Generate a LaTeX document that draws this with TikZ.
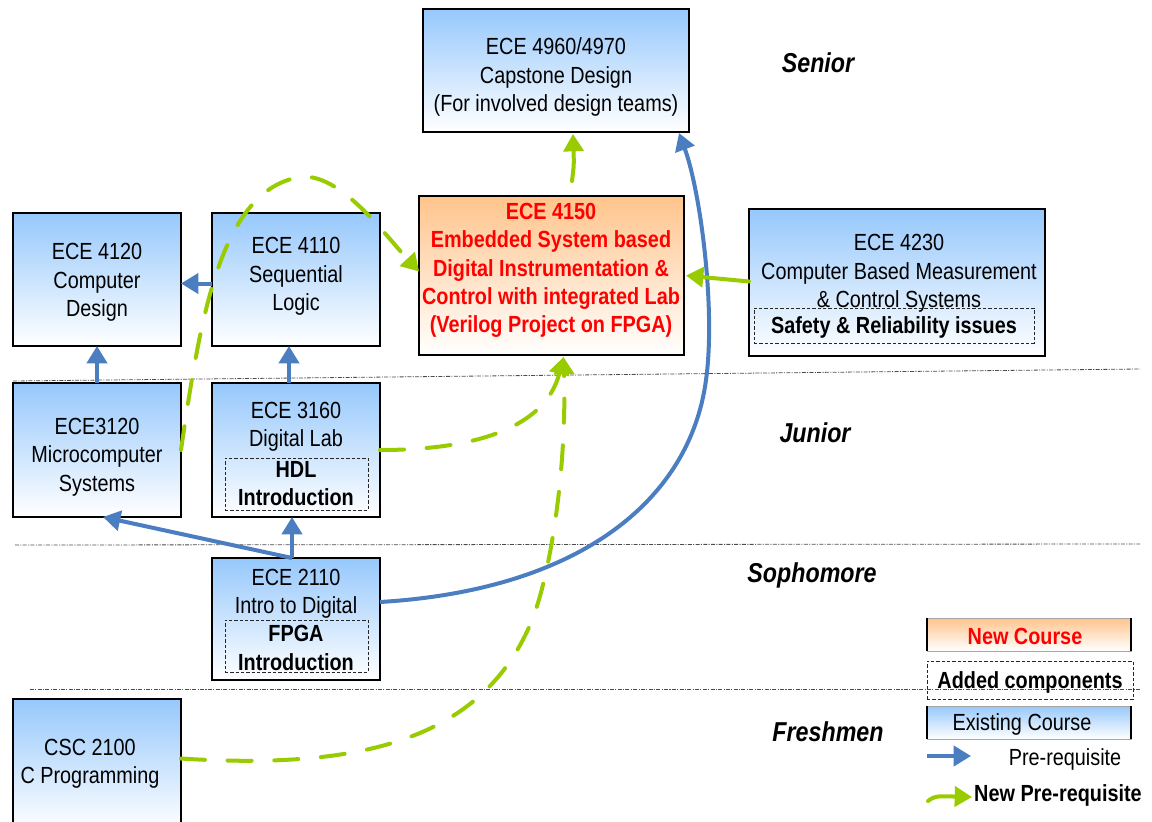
\documentclass[tikz,border=0pt]{standalone}
\usepackage{fontspec}
\setmainfont{Liberation Sans}[FakeStretch=0.85]
\usetikzlibrary{arrows.meta,calc}
\definecolor{pblue}{RGB}{74,126,193}
\definecolor{pgreen}{RGB}{153,204,0}
\definecolor{boxblue}{RGB}{150,200,252}
\definecolor{boxorange}{RGB}{255,196,140}
\begin{document}
\begin{tikzpicture}[x=0.75pt,y=-0.75pt,
  every node/.style={inner sep=0pt, outer sep=0pt},
  course/.style={draw=black, line width=1.5pt, top color=boxblue, bottom color=white},
  newcourse/.style={draw=black, line width=2pt, top color=boxorange, bottom color=white},
  added/.style={draw=black!85, line width=0.6pt, dash pattern=on 2.5pt off 1.5pt},
  txt/.style={align=center, font=\fontsize{17.5pt}{21.3pt}\selectfont},
  btxt/.style={align=center, font=\fontsize{17.5pt}{21.3pt}\selectfont\bfseries},
  newtxt/.style={btxt, text=red},
  level/.style={font=\fontsize{20.5pt}{24pt}\selectfont\bfseries\itshape},
  sepline/.style={draw=black!70, line width=0.6pt, dash pattern=on 3pt off 1pt on 0.8pt off 1pt},
  prereq/.style={draw=pblue, line width=3pt, -{Triangle[length=13pt,width=15pt]}},
  sgreen/.style={draw=pgreen, line width=3pt, line cap=round, -{Triangle[length=13pt,width=15pt]}},
  dgreen/.style={sgreen, dash pattern=on 18pt off 17pt},
  legbox/.style={draw=black!35, line width=0.6pt, minimum width=153pt, minimum height=24.75pt}
]
\clip (0,0) rectangle (1152,821);
\useasboundingbox (0,0) rectangle (1152,821);

% level separators
\draw[sepline] (13,381) -- (1140,369);
\draw[sepline] (15,545) -- (1140,544);
\draw[sepline] (30,689) -- (1140,689);

% level labels
\node[level] (lsen) at (818,63) {Senior};
\node[level] (ljun) at (815,433) {Junior};
\node[level] (lsoph) at (812,575) {Sophomore};
\node[level] (lfre) at (828,732) {Freshmen};

% course boxes
\node[course, minimum width=199.5pt, minimum height=92.25pt] (ncap) at (556,70.5) {};
\node[txt] (tcap) at (556,77) {ECE 4960/4970\\Capstone Design\\(For involved design teams)};

\node[newcourse, minimum width=198.75pt, minimum height=119.25pt] (n4150) at (551.5,275.5) {};
\node[newtxt] (t4150) at (551,270.5) {ECE 4150\\Embedded System based\\Digital Instrumentation \&\\Control with integrated Lab\\(Verilog Project on FPGA)};

\node[course, minimum width=126pt, minimum height=99.75pt] (n4120) at (97,279.5) {};
\node[txt] (t4120) at (97,282.5) {ECE 4120\\Computer\\Design};

\node[course, minimum width=126pt, minimum height=99.75pt] (n4110) at (296,279.5) {};
\node[txt] (t4110) at (296,276.5) {ECE 4110\\Sequential\\Logic};

\node[course, minimum width=222pt, minimum height=110.25pt] (n4230) at (897,282.5) {};
\node[txt] (t4230) at (899,273.5) {ECE 4230\\Computer Based Measurement\\\& Control Systems};
\node[added, minimum width=210pt, minimum height=26.25pt] (a4230) at (894,325.5) {};
\node[btxt] (s4230) at (894,327) {Safety \& Reliability issues};

\node[course, minimum width=126pt, minimum height=100.5pt] (n3120) at (97,450) {};
\node[txt] (t3120) at (97,457) {ECE3120\\Microcomputer\\Systems};

\node[course, minimum width=126pt, minimum height=100.5pt] (n3160) at (296,450) {};
\node[txt] (t3160) at (296,426.5) {ECE 3160\\Digital Lab};
\node[added, minimum width=107.25pt, minimum height=39pt] (a3160) at (296.5,484) {};
\node[btxt] (s3160) at (296,483.5) {HDL\\Introduction};

\node[course, minimum width=126pt, minimum height=91.5pt] (n2110) at (296,619) {};
\node[txt] (t2110) at (296,594) {ECE 2110\\Intro to Digital};
\node[added, minimum width=107.25pt, minimum height=39pt] (a2110) at (296.5,646) {};
\node[btxt] (s2110) at (296,648) {FPGA\\Introduction};

\node[course, minimum width=126pt, minimum height=98.25pt] (n2100) at (97,764.5) {};
\node[txt] (t2100) at (90,763.5) {CSC 2100\\C Programming};

% existing prerequisites (blue)
\draw[prereq] ($(n4110.west)+(0,4)$) -- ($(n4120.east)+(0,4)$);
\draw[prereq] (n3120.north) -- (n4120.south);
\draw[prereq] ($(n3160.north)+(-7,0)$) -- ($(n4110.south)+(-7,0)$);
\draw[prereq] ($(n2110.north)+(-4,0)$) -- ($(n3160.south)+(-4,0)$);
\draw[prereq] ($(n2110.north)+(-4,0)$) -- ($(n3120.south)+(6,0)$);
\draw[prereq] ($(n2110.east)+(0,-17)$) .. controls (580,590) and (690,500) .. (706,380)
   .. controls (716,308) and (700,190) .. ($(ncap.south east)+(-10,1)$);

% new prerequisites (green)
\coordinate (g1) at (572,181);
\draw[sgreen] (g1) .. controls (574,165) .. ($(ncap.south)+(17,2)$);
\draw[sgreen] ($(n4230.west)+(0,-1)$) -- ($(n4150.east)+(2,0)$);
\draw[dgreen] (n3120.east) .. controls (200,320) and (220,190) .. (300,177)
   .. controls (340,172) and (385,235) .. ($(n4150.west)+(0,-4)$);
\draw[dgreen] (n3160.east) .. controls (470,450) and (545,430) .. ($(n4150.south)+(12,2)$);
\draw[dgreen] ($(n2100.east)+(0,-6)$) .. controls (360,770) and (480,740) .. (530,625)
   .. controls (550,579) and (567,470) .. ($(n4150.south)+(12,2)$);

% legend
\node[legbox, top color=boxorange, bottom color=white] (lnew) at (1029,634.5) {};
\draw[line width=1.5pt] (lnew.north west) -- (lnew.south west) (lnew.north east) -- (lnew.south east);
\node[btxt, text=red] (tnew) at (1025,636) {New Course};
\node[added, minimum width=154.5pt, minimum height=28.5pt] (ladd) at (1030,680) {};
\node[btxt] (tadd) at (1030,682) {Added components};
\node[legbox, top color=boxblue, bottom color=white] (lexi) at (1029,722.5) {};
\draw[line width=1.5pt] (lexi.north west) -- (lexi.south west) (lexi.north east) -- (lexi.south east);
\node[txt] (texi) at (1022,724) {Existing Course};
\coordinate (lb1) at (927,756);
\coordinate (lb2) at (971,756);
\draw[prereq] (lb1) -- (lb2);
\node[txt] (tpre) at (1065,759) {Pre-requisite};
\coordinate (lg1) at (928,801);
\coordinate (lg2) at (972,797);
\draw[sgreen] (lg1) .. controls (935,796) .. (lg2);
\node[btxt] (tnpre) at (1058,795) {New Pre-requisite};
\end{tikzpicture}
\end{document}
